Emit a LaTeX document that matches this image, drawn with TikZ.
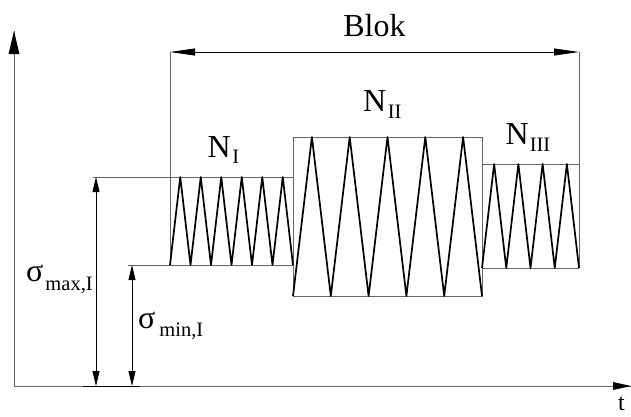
\documentclass[tikz,border=0pt]{standalone}
\usepackage{fontspec}
\setmainfont{Liberation Serif}
\usetikzlibrary{arrows.meta}
\newcommand\lowsub[2]{\raisebox{-#1}{\fontsize{20.5}{20.5}\selectfont #2}}
\begin{document}
\begin{tikzpicture}[x=1pt,y=-1pt,
  thinline/.style={draw=black!60, line width=0.8pt},
  zig/.style={draw=black, line width=1.7pt, line join=round},
  lbl/.style={inner sep=0pt, anchor=base west, font=\fontsize{32}{32}\selectfont},
  dimarrow/.style={draw=black, line width=0.8pt, {Triangle[length=15pt,width=7pt]}-{Triangle[length=15pt,width=7pt]}},
  blokarrow/.style={draw=black, line width=0.8pt, {Triangle[length=25pt,width=7pt]}-{Triangle[length=25pt,width=7pt]}},
  axis/.style={draw=black!60, line width=0.9pt},
]
\useasboundingbox (0,0) rectangle (631,416);

% named coordinates
\coordinate (O) at (14,386);
\coordinate (ytip) at (14,31);
\coordinate (xtip) at (631,386);
\coordinate (bl) at (170,52);
\coordinate (br) at (579,52);

% axes
\draw[axis] (O) -- (ytip);
\fill[black] (ytip) -- (8.5,54) -- (19.5,54) -- cycle;
\draw[axis] (O) -- (xtip);
\fill[black] (xtip) -- (613,382) -- (613,390) -- cycle;
\draw[black, line width=1pt] (83,386) -- (140,386);

% extension lines
\draw[thinline] (93,177) -- (293,177);
\draw[thinline] (128,265) -- (293,265);
\draw[thinline] (bl) -- (170,265);
\draw[thinline] (br) -- (579,268);

% N_II block
\draw[thinline] (293,137) rectangle (482,296);
% N_III block
\draw[thinline] (482,164) -- (579,164);
\draw[thinline] (482,268) -- (579,268);

% Blok arrow
\draw[blokarrow] (bl) -- (br);

% dimension arrows
\coordinate (dmaxT) at (96,177);
\coordinate (dmaxB) at (96,386);
\coordinate (dminT) at (132,265);
\coordinate (dminB) at (132,386);
\draw[dimarrow] (dmaxT) -- (dmaxB);
\draw[dimarrow] (dminT) -- (dminB);

% zigzags
\draw[zig] (170,265) \foreach \k in {1,...,6} { -- ++(10.25,-88) -- ++(10.25,88) };
\draw[zig] (293,296) \foreach \k in {1,...,5} { -- ++(18.9,-159) -- ++(18.9,159) };
\draw[zig] (482,268) \foreach \k in {1,...,4} { -- ++(12.125,-104) -- ++(12.125,104) };

% labels
\node[lbl, anchor=base] (blok) at (374.5,36) {Blok};
\node[lbl] (n1) at (207.5,157) {N\hspace{1.5pt}\lowsub{6pt}{I}};
\node[lbl] (n2) at (363,111) {N\hspace{1.5pt}\lowsub{7pt}{II}};
\node[lbl] (n3) at (505.5,144) {N\hspace{1pt}\lowsub{7pt}{III}};
\node[lbl] (smax) at (26,281) {σ\hspace{2pt}\lowsub{9pt}{max,I}};
\node[lbl] (smin) at (138,328) {σ\hspace{4pt}\lowsub{8pt}{min,I}};
\node[lbl, font=\fontsize{24}{24}\selectfont] (t) at (618,410) {t};
\end{tikzpicture}
\end{document}
